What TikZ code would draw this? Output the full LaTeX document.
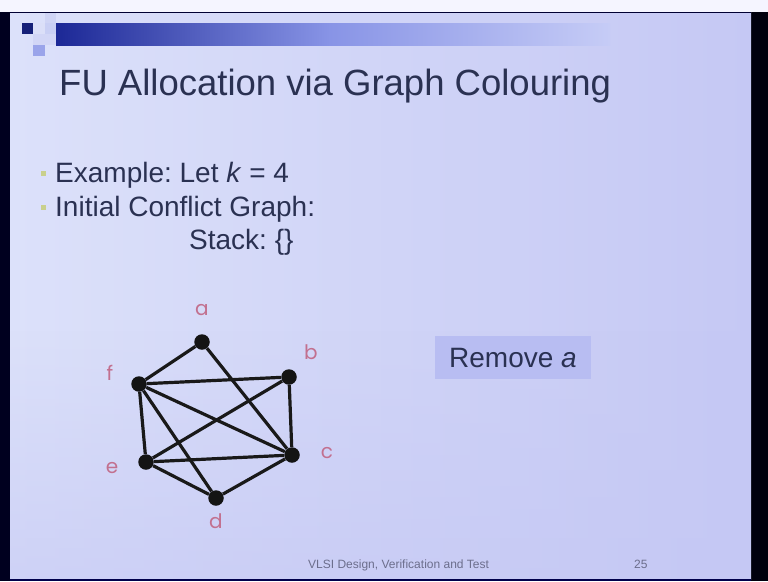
\documentclass[tikz,border=0pt]{standalone}
\usepackage{fontspec}
\setmainfont{Liberation Sans}
\newfontfamily\labelfont{Poppins}
\usetikzlibrary{fadings}
\frenchspacing
\definecolor{slidetext}{HTML}{2A3152}
\definecolor{bgleft}{HTML}{DCE1FA}
\definecolor{bgright}{HTML}{C5C8F4}
\definecolor{bardark}{HTML}{1C2896}
\definecolor{barmid}{HTML}{8894E6}
\definecolor{barlight}{HTML}{C6CCF6}
\definecolor{vtxlabel}{HTML}{C2708F}
\definecolor{bulletcol}{HTML}{C9D08C}
\definecolor{boxfill}{HTML}{B8BDF2}
\definecolor{footcol}{HTML}{6C6E8C}
\tikzset{
  vertex/.style={circle, fill=black!92, inner sep=0pt, minimum size=15.5pt},
  edge/.style={line width=3.2pt, draw=black!90},
  vlabel/.style={text=vtxlabel, font=\labelfont\fontsize{20}{22}\selectfont, inner sep=0pt},
  bodytext/.style={anchor=base west, inner sep=0pt, text=slidetext, font=\fontsize{28}{32}\selectfont},
  bulletsq/.style={fill=bulletcol, draw=none},
}
\begin{document}
\begin{tikzpicture}[x=1pt, y=-1pt]
\useasboundingbox (0,0) rectangle (768,581);
% surroundings of the projected slide
\fill[white!96!blue] (0,0) rectangle (768,12);
\fill[black!88!blue] (0,12) rectangle (10,581);
\fill[black!95!blue] (751,12) rectangle (768,581);
% slide background
\shade[left color=bgleft, right color=bgright] (10,12) rectangle (751,579);
\fill[bgright, path fading=north, opacity=0.6] (10,330) rectangle (751,579);
\fill[black!70!blue] (10,579) rectangle (751,581);
\draw[black!80!blue, line width=1pt] (10,12.5) -- (751,12.5);
% header bar and squares
\shade[left color=bardark, right color=barmid] (56,23) rectangle (330,45);
\shade[left color=barmid, right color=barlight] (329.5,23) rectangle (610,45);
\fill[bardark!80!black] (22,23) rectangle (33,34);
\fill[barmid!40!white] (45,12.5) rectangle (56,23);
\fill[barmid!30!white] (33,23) rectangle (45,34);
\fill[barmid!45!white] (45,23) rectangle (56,34);
\fill[barmid!38!white] (33,34) rectangle (56,45);
\fill[barmid!85!white] (33,45) rectangle (45,56);
% title and bullet text
\node[anchor=base west, inner sep=0pt, text=slidetext, font=\fontsize{36.5}{44}\selectfont] (title) at (59,95) {FU Allocation via Graph Colouring};
\fill[bulletsq] (40.5,170.5) rectangle (45.5,175.5);
\fill[bulletsq] (40.5,204.5) rectangle (45.5,209.5);
\node[bodytext] (ex) at (55,182) {Example: Let \textit{k} = 4};
\node[bodytext] (init) at (55,216) {Initial Conflict Graph:};
\node[bodytext] (stack) at (189,249) {Stack: \{\}};
% conflict graph
\node[vertex] (a) at (202,342) {};
\node[vertex] (b) at (289,377) {};
\node[vertex] (c) at (292,455) {};
\node[vertex] (d) at (216,498) {};
\node[vertex] (e) at (146,462) {};
\node[vertex] (f) at (139,384) {};
\draw[edge] (a) -- (f);
\draw[edge] (a) -- (c);
\draw[edge] (f) -- (b);
\draw[edge] (f) -- (c);
\draw[edge] (f) -- (d);
\draw[edge] (f) -- (e);
\draw[edge] (b) -- (c);
\draw[edge] (b) -- (e);
\draw[edge] (e) -- (c);
\draw[edge] (e) -- (d);
\draw[edge] (d) -- (c);
\node[vlabel] (la) at (202,310) {a};
\node[vlabel] (lb) at (311,352) {b};
\node[vlabel] (lf) at (110,373) {f};
\node[vlabel] (le) at (112,468) {e};
\node[vlabel] (lc) at (327,453) {c};
\node[vlabel] (ld) at (216,521) {d};
% action box
\node[fill=boxfill, minimum width=156pt, minimum height=43pt, inner sep=0pt, text=slidetext, font=\fontsize{28}{32}\selectfont] (remove) at (513,357.5) {Remove \textit{a}};
% footer
\node[anchor=base west, inner sep=0pt, text=footcol, font=\fontsize{12}{14}\selectfont] (foot) at (308,568) {VLSI Design, Verification and Test};
\node[anchor=base west, inner sep=0pt, text=footcol, font=\fontsize{12}{14}\selectfont] (page) at (634,568) {25};
\end{tikzpicture}
\end{document}
